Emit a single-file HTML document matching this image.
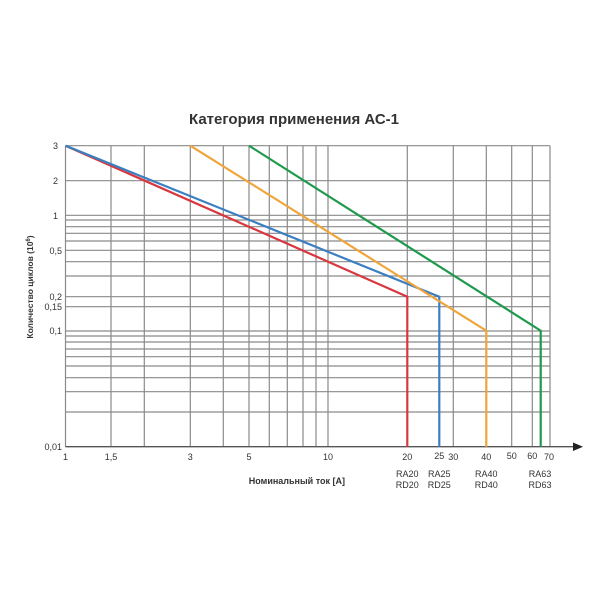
<!DOCTYPE html>
<html><head><meta charset="utf-8"><style>
html,body{margin:0;padding:0;background:#fff;}
svg{display:block;font-family:"Liberation Sans",sans-serif;}
</style></head><body>
<svg width="600" height="600" viewBox="0 0 600 600" xmlns="http://www.w3.org/2000/svg">
<rect width="600" height="600" fill="#fff"/>
<text x="294" y="124" text-anchor="middle" font-size="15" font-weight="bold" fill="#333">Категория применения АС-1</text>
<g stroke="#8a8a8a" stroke-width="1.2" fill="none">
<!-- horizontal -->
<line x1="65.5" x2="550" y1="145.7" y2="145.7"/>
<line x1="65.5" x2="550" y1="180.7" y2="180.7"/>
<line x1="65.5" x2="550" y1="215.3" y2="215.3"/>
<line x1="65.5" x2="550" y1="220" y2="220"/>
<line x1="65.5" x2="550" y1="226.7" y2="226.7"/>
<line x1="65.5" x2="550" y1="233.3" y2="233.3"/>
<line x1="65.5" x2="550" y1="241" y2="241"/>
<line x1="65.5" x2="550" y1="250.3" y2="250.3"/>
<line x1="65.5" x2="550" y1="261.7" y2="261.7"/>
<line x1="65.5" x2="550" y1="276" y2="276"/>
<line x1="65.5" x2="550" y1="296.7" y2="296.7"/>
<line x1="65.5" x2="550" y1="306.7" y2="306.7"/>
<line x1="65.5" x2="550" y1="331" y2="331"/>
<line x1="65.5" x2="550" y1="336" y2="336"/>
<line x1="65.5" x2="550" y1="342" y2="342"/>
<line x1="65.5" x2="550" y1="349" y2="349"/>
<line x1="65.5" x2="550" y1="356.7" y2="356.7"/>
<line x1="65.5" x2="550" y1="366" y2="366"/>
<line x1="65.5" x2="550" y1="377.7" y2="377.7"/>
<line x1="65.5" x2="550" y1="391.7" y2="391.7"/>
<line x1="65.5" x2="550" y1="412" y2="412"/>
<!-- vertical -->
<line y1="145.7" y2="446.7" x1="65.5" x2="65.5"/>
<line y1="145.7" y2="446.7" x1="111" x2="111"/>
<line y1="145.7" y2="446.7" x1="144.3" x2="144.3"/>
<line y1="145.7" y2="446.7" x1="190.3" x2="190.3"/>
<line y1="145.7" y2="446.7" x1="223.3" x2="223.3"/>
<line y1="145.7" y2="446.7" x1="249" x2="249"/>
<line y1="145.7" y2="446.7" x1="269.3" x2="269.3"/>
<line y1="145.7" y2="446.7" x1="287.3" x2="287.3"/>
<line y1="145.7" y2="446.7" x1="303" x2="303"/>
<line y1="145.7" y2="446.7" x1="316" x2="316"/>
<line y1="145.7" y2="446.7" x1="328" x2="328"/>
<line y1="145.7" y2="446.7" x1="407.3" x2="407.3"/>
<line y1="145.7" y2="446.7" x1="453.3" x2="453.3"/>
<line y1="145.7" y2="446.7" x1="486.3" x2="486.3"/>
<line y1="145.7" y2="446.7" x1="511.7" x2="511.7"/>
<line y1="145.7" y2="446.7" x1="532.3" x2="532.3"/>
<line y1="145.7" y2="446.7" x1="550" x2="550"/>
</g>
<line x1="65.5" x2="575" y1="446.7" y2="446.7" stroke="#555" stroke-width="1.3"/>
<polygon points="573,442.5 583,446.7 573,451" fill="#222"/>
<g fill="none" stroke-width="2.2" stroke-linejoin="miter">
<polyline points="65.5,145.7 407.3,296.7 407.3,446.7" stroke="#d9373f"/>
<polyline points="65.5,145.7 439.3,296.7 439.3,446.7" stroke="#3a7fc1"/>
<polyline points="190.3,145.7 486.3,330.7 486.3,446.7" stroke="#f0a43c"/>
<polyline points="249,145.7 540.7,330.7 540.7,446.7" stroke="#1f9a4d"/>
</g>
<g font-size="9" fill="#333" text-anchor="end">
<text x="58" y="149">3</text>
<text x="58" y="184">2</text>
<text x="58" y="219">1</text>
<text x="62" y="254">0,5</text>
<text x="62" y="300">0,2</text>
<text x="62" y="310">0,15</text>
<text x="62" y="334">0,1</text>
<text x="62" y="450">0,01</text>
</g>
<g font-size="9" fill="#333" text-anchor="middle">
<text x="65.5" y="460">1</text>
<text x="111" y="460">1,5</text>
<text x="190.3" y="460">3</text>
<text x="249" y="460">5</text>
<text x="328" y="460">10</text>
<text x="407.3" y="460">20</text>
<text x="439.3" y="459">25</text>
<text x="453.3" y="460">30</text>
<text x="486.3" y="460">40</text>
<text x="511.7" y="459">50</text>
<text x="532.3" y="459">60</text>
<text x="549" y="460">70</text>
<text x="407.3" y="477">RA20</text>
<text x="407.3" y="488">RD20</text>
<text x="439.3" y="477">RA25</text>
<text x="439.3" y="488">RD25</text>
<text x="486.3" y="477">RA40</text>
<text x="486.3" y="488">RD40</text>
<text x="540" y="477">RA63</text>
<text x="540" y="488">RD63</text>
</g>
<text x="345" y="484" text-anchor="end" font-size="9" font-weight="bold" fill="#333">Номинальный ток [A]</text>
<text transform="translate(33,287) rotate(-90)" text-anchor="middle" font-size="8.5" font-weight="bold" fill="#333">Количество циклов (10<tspan font-size="6" dy="-3">6</tspan><tspan dy="3">)</tspan></text>
</svg>
</body></html>
